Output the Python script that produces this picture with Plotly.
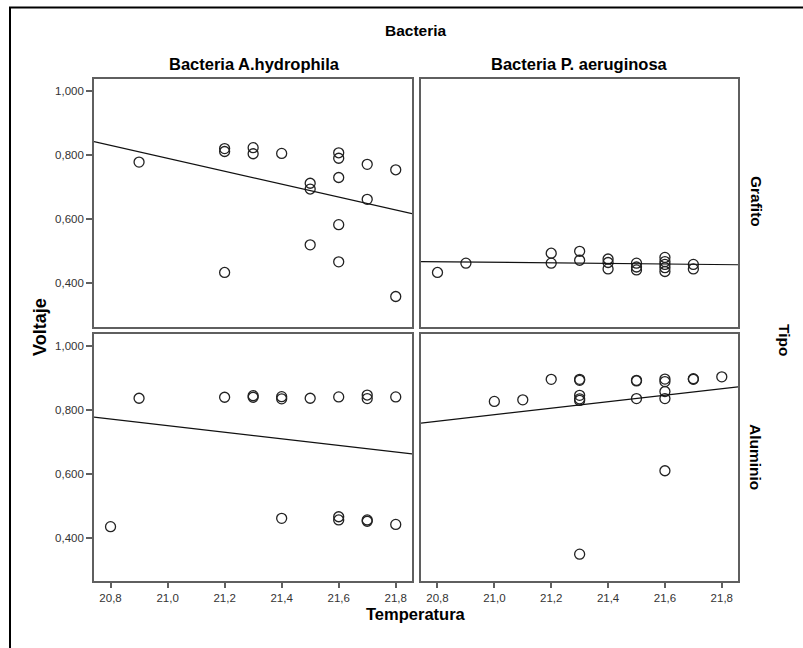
import plotly.graph_objects as go
import numpy as np

# ---------------- data ----------------
bacteria = ["Bacteria A.hydrophila", "Bacteria P. aeruginosa"]
tipos = ["Grafito", "Aluminio"]

# Grafito / A.hydrophila
gr_ah_temp = [20.9, 21.2, 21.2, 21.2, 21.3, 21.3, 21.4, 21.5, 21.5, 21.5,
              21.6, 21.6, 21.6, 21.6, 21.6, 21.7, 21.7, 21.8, 21.8]
gr_ah_volt = [0.778, 0.820, 0.811, 0.434, 0.823, 0.804, 0.805, 0.712, 0.694, 0.520,
              0.807, 0.790, 0.730, 0.583, 0.467, 0.771, 0.662, 0.754, 0.359]

# Grafito / P. aeruginosa
gr_pa_temp = [20.8, 20.9, 21.2, 21.2, 21.3, 21.3, 21.4, 21.4, 21.4,
              21.5, 21.5, 21.5, 21.6, 21.6, 21.6, 21.6, 21.6, 21.7, 21.7]
gr_pa_volt = [0.434, 0.463, 0.494, 0.463, 0.500, 0.472, 0.476, 0.465, 0.445,
              0.463, 0.451, 0.442, 0.481, 0.468, 0.459, 0.449, 0.437, 0.459, 0.445]

# Aluminio / A.hydrophila
al_ah_temp = [20.8, 20.9, 21.2, 21.3, 21.3, 21.4, 21.4, 21.4, 21.5, 21.6,
              21.6, 21.6, 21.7, 21.7, 21.7, 21.7, 21.8, 21.8]
al_ah_volt = [0.434, 0.836, 0.839, 0.844, 0.839, 0.841, 0.834, 0.460, 0.836, 0.840,
              0.465, 0.455, 0.846, 0.835, 0.455, 0.451, 0.840, 0.441]

# Aluminio / P. aeruginosa
al_pa_temp = [21.0, 21.1, 21.2, 21.3, 21.3, 21.3, 21.3, 21.3, 21.3,
              21.5, 21.5, 21.5, 21.6, 21.6, 21.6, 21.6, 21.6, 21.7, 21.7, 21.8]
al_pa_volt = [0.826, 0.831, 0.895, 0.895, 0.892, 0.845, 0.834, 0.829, 0.348,
              0.892, 0.890, 0.835, 0.896, 0.888, 0.857, 0.835, 0.609, 0.897, 0.895, 0.903]

# fitted line values at 20.8 and 21.8, order: GR-AH, GR-PA, AL-AH, AL-PA
fit_at_208 = [0.830, 0.4675, 0.771, 0.764]
fit_at_218 = [0.6285, 0.4585, 0.668, 0.866]

x_tick_vals = [20.8, 21.0, 21.2, 21.4, 21.6, 21.8]
y_tick_vals = [0.4, 0.6, 0.8, 1.0]

# ---------------- layout geometry ----------------
W, H = 803, 648
x_range = [20.742, 21.857]
y_range = [0.264, 1.037]

def px_x(p):
    return p / W

def px_y(p):
    return 1 - p / H

col_dom = [[px_x(94), px_x(412)], [px_x(421), px_x(738)]]
row_dom = [[px_y(327), px_y(79)], [px_y(581), px_y(334)]]

panels = [
    (0, 0, gr_ah_temp, gr_ah_volt),
    (0, 1, gr_pa_temp, gr_pa_volt),
    (1, 0, al_ah_temp, al_ah_volt),
    (1, 1, al_pa_temp, al_pa_volt),
]

FONT = "Liberation Sans, Arial, sans-serif"
fig = go.Figure()
frame_col = "#5f5f5f"
tick_font = dict(family=FONT, size=11.5, color="#333333")

for i, (r, c, tx, vy) in enumerate(panels):
    n = i + 1
    xa = "x" if n == 1 else f"x{n}"
    ya = "y" if n == 1 else f"y{n}"
    fig.add_trace(go.Scatter(
        x=tx, y=vy, mode="markers", xaxis=xa, yaxis=ya,
        marker=dict(symbol="circle-open", size=10, color="#222222", line=dict(width=1.3)),
        showlegend=False, hoverinfo="x+y"))
    slope = (fit_at_218[i] - fit_at_208[i]) / (21.8 - 20.8)
    lx = np.array(x_range)
    ly = fit_at_208[i] + slope * (lx - 20.8)
    fig.add_trace(go.Scatter(
        x=lx, y=ly, mode="lines", xaxis=xa, yaxis=ya,
        line=dict(color="#111111", width=1.2), showlegend=False, hoverinfo="skip"))

    xkey = "xaxis" if n == 1 else f"xaxis{n}"
    ykey = "yaxis" if n == 1 else f"yaxis{n}"
    bottom = (r == 1)
    left = (c == 0)
    fig.update_layout(**{
        xkey: dict(domain=col_dom[c], anchor=ya, range=x_range,
                   showgrid=False, zeroline=False, showline=True, mirror=True,
                   linecolor=frame_col, linewidth=1.6,
                   tickvals=x_tick_vals if bottom else [],
                   tickformat=".1f", ticks="outside" if bottom else "",
                   ticklen=5, tickwidth=1.6, tickcolor=frame_col,
                   showticklabels=bottom, tickfont=tick_font),
        ykey: dict(domain=row_dom[r], anchor=xa, range=y_range,
                   showgrid=False, zeroline=False, showline=True, mirror=True,
                   linecolor=frame_col, linewidth=1.6,
                   tickvals=y_tick_vals if left else [],
                   tickformat=".3f", ticks="outside" if left else "",
                   ticklen=6, tickwidth=1.6, tickcolor=frame_col,
                   showticklabels=left, tickfont=tick_font),
    })

def bf(size):
    return dict(family=FONT, size=size, color="#000000")

annotations = [
    dict(text="<b>Bacteria</b>", x=px_x(416), y=px_y(31), font=bf(15.5)),
    dict(text=f"<b>{bacteria[0]}</b>", x=px_x(254), y=px_y(64), font=bf(16.5)),
    dict(text=f"<b>{bacteria[1]}</b>", x=px_x(579), y=px_y(64), font=bf(16.5)),
    dict(text="<b>Voltaje</b>", x=px_x(40), y=px_y(327), font=bf(18), textangle=-90),
    dict(text="<b>Temperatura</b>", x=px_x(416), y=px_y(614), font=bf(16.5)),
    dict(text=f"<b>{tipos[0]}</b>", x=px_x(756), y=px_y(201), font=bf(15.5), textangle=90),
    dict(text=f"<b>{tipos[1]}</b>", x=px_x(756), y=px_y(457), font=bf(15.5), textangle=90),
    dict(text="<b>Tipo</b>", x=px_x(785), y=px_y(340), font=bf(15.5), textangle=90),
]
for a in annotations:
    a.update(xref="paper", yref="paper", showarrow=False, xanchor="center", yanchor="middle")

fig.update_layout(
    width=W, height=H,
    margin=dict(l=0, r=0, t=0, b=0),
    paper_bgcolor="white", plot_bgcolor="white",
    separators=",.",
    annotations=annotations,
    shapes=[dict(type="rect", xref="paper", yref="paper",
                 x0=px_x(10), x1=px_x(W + 20), y0=px_y(H + 20), y1=px_y(7.5),
                 line=dict(color="#000000", width=2), fillcolor="rgba(0,0,0,0)",
                 layer="below")],
)

fig.write_html("out.html")
